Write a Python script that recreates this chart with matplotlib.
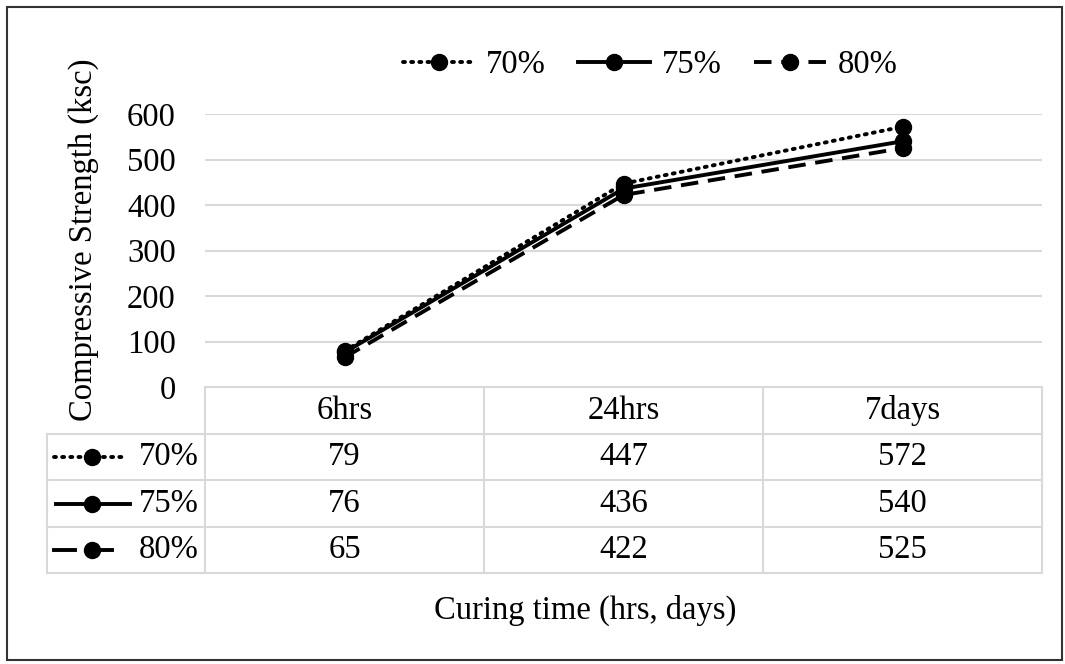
import matplotlib.pyplot as plt
from matplotlib.lines import Line2D
from matplotlib.patches import Rectangle

plt.rcParams['font.family'] = ['Liberation Serif', 'DejaVu Serif']

# curing ages and compressive strength (ksc) per mix
categories = ['6hrs', '24hrs', '7days']
series_names = ['70%', '75%', '80%']
s70 = [79, 447, 572]
s75 = [76, 436, 540]
s80 = [65, 422, 525]
y_ticks = [0, 100, 200, 300, 400, 500, 600]

W, H = 1065, 664
fig = plt.figure(figsize=(W / 100, H / 100), dpi=100)

# pixel helpers
def fx(px):
    return px / W

def fy(py):
    return 1 - py / H

ax_l, ax_r, ax_t, ax_b = 205, 1042, 114, 387
ax = fig.add_axes([fx(ax_l), fy(ax_b), fx(ax_r - ax_l), (ax_b - ax_t) / H])

LW = 2.8
MS = 11.5
styles = [
    dict(linestyle=(0, (0.5, 1.6)), dash_capstyle='round'),
    dict(linestyle='-'),
    dict(linestyle=(0, (4.5, 2.5))),
]
line_kw = dict(color='black', lw=LW, marker='o', markersize=MS)

x = range(len(categories))
for vals, st in zip([s70, s75, s80], styles):
    ax.plot(x, vals, **line_kw, **st, clip_on=False, zorder=3)

fs = 23.5
ax.set_xlim(-0.5, len(categories) - 0.5)
ax.set_ylim(0, 600)
ax.set_yticks(y_ticks)
ax.tick_params(axis='y', length=0, pad=21, labelsize=fs)
ax.set_xticks([])
ax.grid(axis='y', color='#d9d9d9', lw=1.5)
for s in ax.spines.values():
    s.set_visible(False)

# overlay for the data table and frame, in pixel coordinates
ov = fig.add_axes([0, 0, 1, 1], zorder=-1)
ov.set_xlim(0, W)
ov.set_ylim(H, 0)
ov.axis('off')

grid_c = '#d9d9d9'
col_x = [205, 484, 763, 1042]
row_y = [387, 434, 480, 527, 573]
tab_l = 47

ov.plot([col_x[0], col_x[-1]], [row_y[0], row_y[0]], color=grid_c, lw=1.5)
for yy in row_y[1:]:
    ov.plot([tab_l, col_x[-1]], [yy, yy], color=grid_c, lw=1.5)
for xx in col_x:
    ov.plot([xx, xx], [row_y[0], row_y[-1]], color=grid_c, lw=1.5)
ov.plot([tab_l, tab_l], [row_y[1], row_y[-1]], color=grid_c, lw=1.5)

for i, cat in enumerate(categories):
    cx = (col_x[i] + col_x[i + 1]) / 2
    ov.text(cx, (row_y[0] + row_y[1]) / 2, cat, ha='center', va='center',
            fontsize=fs)

# legend keys inside the table's first column
key_segs = [
    [((54, 124), styles[0])],
    [((56, 130), styles[1])],
    [((54, 75), styles[1]), ((92, 112), styles[1])],
]
for r, (name, vals) in enumerate(zip(series_names, [s70, s75, s80])):
    cy = (row_y[r + 1] + row_y[r + 2]) / 2
    for i, v in enumerate(vals):
        cx = (col_x[i] + col_x[i + 1]) / 2
        ov.text(cx, cy, str(v), ha='center', va='center', fontsize=fs)
    for (x0, x1), st in key_segs[r]:
        ov.plot([x0, x1], [cy, cy], color='black', lw=LW, **st)
    ov.plot([92], [cy], color='black', marker='o', markersize=MS)
    ov.text(199, cy, name, ha='right', va='center', fontsize=fs)

# outer frame
ov.add_patch(Rectangle((7, 7), 1055, 653, fill=False, ec='#333333', lw=1.5))

fig.text(fx(84), fy(240), 'Compressive Strength (ksc)', rotation=90,
         ha='center', va='center', fontsize=fs)
fig.text(fx(585), fy(610), 'Curing time (hrs, days)', ha='center',
         va='center', fontsize=fs)

handles = [Line2D([], [], color='black', lw=LW, marker='o', markersize=MS, **st)
           for st in styles]
fig.legend(handles, series_names, loc='center', ncol=3,
           bbox_to_anchor=(fx(650), fy(65)), frameon=False, fontsize=fs,
           handlelength=2.2, handletextpad=0.35, columnspacing=1.0, numpoints=1)

fig.savefig('out.png', dpi=100)
